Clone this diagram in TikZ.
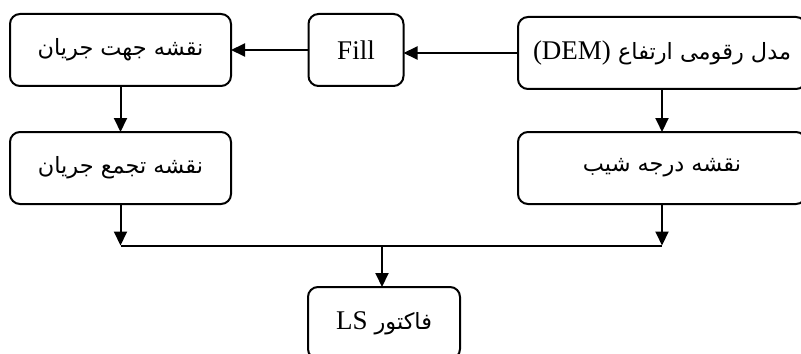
\documentclass[tikz,border=0pt]{standalone}
\usepackage{fontspec}
\setmainfont{Liberation Serif}
\newfontfamily\persianfont[Script=Arabic,Scale=0.83]{DejaVu Sans}
\TeXXeTstate=1
\usepackage{tikz}
\usetikzlibrary{positioning}
\usetikzlibrary{arrows.meta}
\newcommand\fatext[1]{\raisebox{-2pt}{\persianfont\beginR #1\endR}}

\begin{document}
\begin{tikzpicture}
[   on grid,
    font = \fontsize{13.5pt}{16pt}\selectfont,
    inner sep=1pt,
    outer sep=0pt,
    box/.style={draw, line width=1pt, rounded corners=5pt, minimum height=36pt},
    link/.style={line width=1pt},
    arrow/.style={line width=1pt, -{Triangle[length=7pt,width=6.5pt]}}
]
\useasboundingbox (0,0) rectangle (400.5pt,-176.5pt);

\node (flowdir) [box, minimum width=110.5pt] at (60.25pt,-25pt)
    {\fatext{نقشه جهت جریان}};
\node (fill) [box, minimum width=47.5pt, right=117.75pt of flowdir] {Fill};
\node (dem) [box, minimum width=144pt] at (331pt,-26.5pt)
    {\fatext{مدل رقومی ارتفاع \beginL\rmfamily(DEM)\endL}};
\node (flowacc) [box, minimum width=110.5pt, below=59pt of flowdir]
    {\fatext{نقشه تجمع جریان}};
\node (slope) [box, minimum width=144pt, below=57.5pt of dem]
    {\fatext{نقشه درجه شیب}};
\node (ls) [box, minimum width=76pt] at (192pt,-161.5pt)
    {\fatext{فاکتور \beginL\rmfamily LS\endL}};
\coordinate (merge) at (191pt,-122.75pt);

\draw[arrow] (dem.west) -- (dem.west -| fill.east);
\draw[arrow] (fill.west) -- (fill.west -| flowdir.east);
\draw[arrow] (flowdir) -- (flowacc);
\draw[arrow] (dem) -- (slope);
\draw[arrow] (flowacc) -- (flowacc |- merge);
\draw[arrow] (slope) -- (slope |- merge);
\draw[link] (flowacc |- merge) -- (slope |- merge);
\draw[arrow] (merge) -- (merge |- ls.north);
\end{tikzpicture}
\end{document}
